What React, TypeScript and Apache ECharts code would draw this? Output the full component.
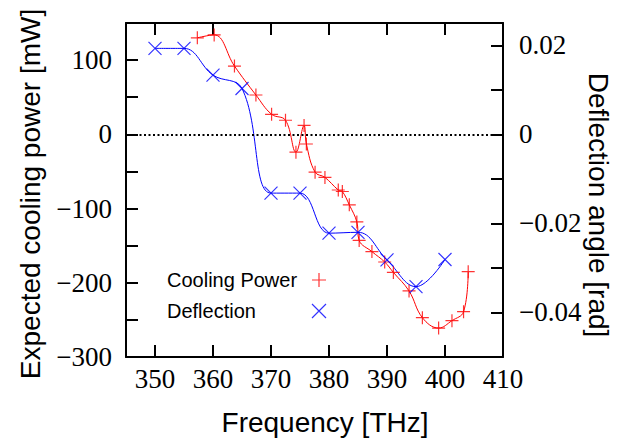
import React, { useEffect, useRef } from "react";
import * as echarts from "echarts";

// Cooling power (left axis, mW)
const coolingFreq = [357.3, 360.2, 363.7, 367.4, 370.1, 372.5, 374.3, 375.7, 376.1, 377.6, 379.3, 381.6, 382.3, 383.5, 384.8, 385.2, 387.4, 389.6, 391.1, 393.8, 396.1, 398.9, 401.2, 403.2, 404.0];
const coolingPower = [130, 134, 92, 53, 27, 19, -24, 12, -13, -51, -58, -75, -77, -95, -118, -143, -158, -172, -186, -211, -247, -261, -251, -239, -185];

// Deflection (right axis, rad)
const deflFreq = [350, 355, 360, 365, 370, 375, 380, 385, 390, 395, 400];
const deflAngle = [0.0193, 0.0193, 0.0133, 0.0103, -0.0132, -0.0132, -0.0222, -0.022, -0.0282, -0.0342, -0.0281];

const xTickValues = [350, 360, 370, 380, 390, 400];
const xLabelValues = [350, 360, 370, 380, 390, 400, 410];

const RED = "#ff0000";
const BLUE = "#0000ff";
const PLUS = "path://M0,6L12,6M6,0L6,12";
const CROSS = "path://M0,0L12,12M12,0L0,12";

const serif = "Liberation Serif";
const sans = "Liberation Sans";

const minus = (s: string) => s.replace("-", "\u2212");

export default function App() {
  const ref = useRef<HTMLDivElement>(null);
  useEffect(() => {
    if (!ref.current) return;
    const chart = echarts.init(ref.current, undefined, { renderer: "svg" });
    const coolPts = coolingFreq.map((x, i) => [x, coolingPower[i]]);
    const deflPts = deflFreq.map((x, i) => [x, deflAngle[i]]);
    const axisLine = { show: true, onZero: false, lineStyle: { color: "#000", width: 2 } };
    const tick = { show: true, inside: true, length: 12, lineStyle: { color: "#000", width: 2 } };
    const labelBase = { color: "#000", fontFamily: serif, fontSize: 27 };
    const option: any = {
      animation: false,
      grid: { left: 126, top: 23, width: 377, height: 334, outerBoundsMode: "none" },
      xAxis: [
        {
          type: "value", min: 345, max: 410, position: "bottom",
          axisLine, axisTick: { ...tick, customValues: xTickValues },
          axisLabel: { ...labelBase, margin: 8, customValues: xLabelValues },
          splitLine: { show: false },
        },
        {
          type: "value", min: 345, max: 410, position: "top",
          axisLine, axisTick: { ...tick, customValues: xTickValues },
          axisLabel: { show: false }, splitLine: { show: false },
        },
      ],
      yAxis: [
        {
          type: "value", min: -300, max: 150, interval: 50, position: "left",
          axisLine, axisTick: tick,
          axisLabel: {
            ...labelBase, margin: 14,
            formatter: (v: number) => (Math.abs(v % 100) < 1e-9 ? minus(String(v)) : ""),
          },
          splitLine: { show: false },
        },
        {
          type: "value", min: -0.05, max: 0.025, interval: 0.01, position: "right",
          axisLine, axisTick: tick,
          axisLabel: {
            ...labelBase, margin: 16,
            formatter: (v: number) => {
              const k = Math.round(v * 100);
              if (Math.abs(v * 100 - k) > 1e-6 || k % 2 !== 0) return "";
              return k === 0 ? "0" : minus(v.toFixed(2));
            },
          },
          splitLine: { show: false },
        },
      ],
      legend: {
        data: ["Cooling Power", "Deflection"],
        orient: "vertical", align: "right", left: 167, top: 270, padding: 0,
        itemWidth: 14, itemHeight: 14, itemGap: 11, selectedMode: false,
        formatter: "{t|{name}}",
        itemStyle: { borderWidth: 1.2 },
        textStyle: {
          color: "#000", fontFamily: sans, fontSize: 20,
          rich: { t: { width: 140, align: "left", fontFamily: sans, fontSize: 20, lineHeight: 20, color: "#000" } },
        },
      },
      series: [
        {
          name: "coolingFit", type: "line", xAxisIndex: 0, yAxisIndex: 0,
          data: coolPts, smooth: 0.4, showSymbol: false, symbol: "none",
          lineStyle: { color: RED, width: 1 }, itemStyle: { color: RED }, silent: true, z: 2,
          markLine: {
            silent: true, symbol: "none", label: { show: false },
            lineStyle: { color: "#000", type: [2, 2.5], width: 2 },
            data: [{ yAxis: 0 }],
          },
        },
        {
          name: "deflFit", type: "line", xAxisIndex: 0, yAxisIndex: 1,
          data: deflPts, smooth: 0.4, showSymbol: false, symbol: "none",
          lineStyle: { color: BLUE, width: 1 }, itemStyle: { color: BLUE }, silent: true, z: 2,
        },
        {
          name: "Cooling Power", type: "scatter", xAxisIndex: 0, yAxisIndex: 0,
          data: coolPts, symbol: PLUS, symbolSize: 13,
          itemStyle: { color: RED, borderColor: RED, borderWidth: 1.2 }, z: 3,
        },
        {
          name: "Deflection", type: "scatter", xAxisIndex: 0, yAxisIndex: 1,
          data: deflPts, symbol: CROSS, symbolSize: 13,
          itemStyle: { color: BLUE, borderColor: BLUE, borderWidth: 1.2 }, z: 3,
        },
      ],
      graphic: [
        {
          type: "text", x: 325, y: 422,
          style: { text: "Frequency [THz]", fontFamily: sans, fontSize: 28, fill: "#000", align: "center", verticalAlign: "middle" },
        },
        {
          type: "text", x: 30, y: 194, rotation: Math.PI / 2,
          style: { text: "Expected cooling power [mW]", fontFamily: sans, fontSize: 28, fill: "#000", align: "center", verticalAlign: "middle" },
        },
        {
          type: "text", x: 598, y: 205, rotation: -Math.PI / 2,
          style: { text: "Deflection angle [rad]", fontFamily: sans, fontSize: 28, fill: "#000", align: "center", verticalAlign: "middle" },
        },
      ],
    };
    chart.setOption(option);
    return () => chart.dispose();
  }, []);
  return (
    <div
      ref={ref}
      style={{ position: "fixed", left: 0, top: 0, width: 620, height: 443, background: "#fff" }}
    />
  );
}
